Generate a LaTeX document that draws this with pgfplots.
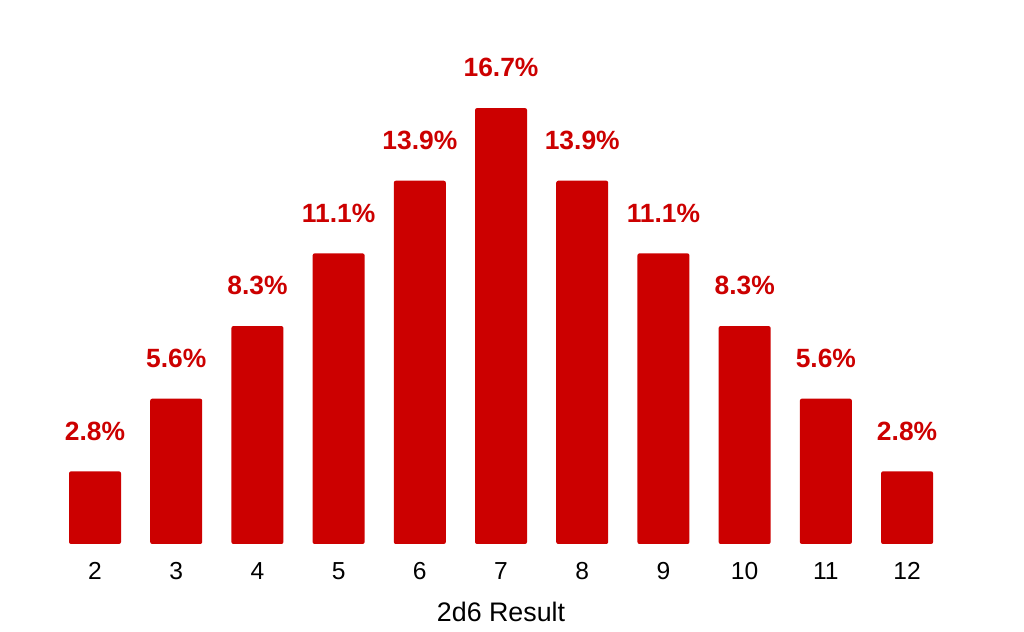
\documentclass[border=0pt]{standalone}
\usepackage{pgfplots}
\pgfplotsset{compat=1.18}
\usepackage{fontspec}
\setmainfont{Liberation Sans}
\definecolor{barred}{HTML}{CC0000}
\begin{document}
\begin{tikzpicture}
\begin{axis}[
  scale only axis,
  width=512pt, height=272pt,
  xmin=0.83, xmax=13.44,
  ymin=0, ymax=20.8,
  axis line style={draw=none},
  tick style={draw=none},
  clip=false,
  /pgf/number format/assume math mode=true,
  xtick={2,...,12},
  xticklabels={2,3,4,5,6,7,8,9,10,11,12},
  xticklabel style={font=\fontsize{12.3}{14}\selectfont, anchor=base, inner sep=0pt, yshift=-17.7pt},
  ytick=\empty,
  xlabel={2d6 Result},
  xlabel style={font=\fontsize{13.4}{15}\selectfont, at={(axis description cs:0.4893,0)}, anchor=base, inner sep=0pt, yshift=-38.6pt},
]
\addplot[ybar, bar width=26pt, fill=barred, draw=none, rounded corners=1pt,
  point meta=explicit,
  nodes near coords={\pgfmathprintnumber[fixed,fixed zerofill,precision=1]{\pgfplotspointmeta}\%},
  every node near coord/.append style={font=\fontsize{13.2}{15}\selectfont\bfseries, text=barred, anchor=south, inner sep=0pt, yshift=15.3pt},
] coordinates {
  (2,2.778) [2.778]
  (3,5.556) [5.556]
  (4,8.333) [8.333]
  (5,11.111) [11.111]
  (6,13.889) [13.889]
  (7,16.667) [16.667]
  (8,13.889) [13.889]
  (9,11.111) [11.111]
  (10,8.333) [8.333]
  (11,5.556) [5.556]
  (12,2.778) [2.778]
};
\coordinate (tl) at (rel axis cs:0,1);
\coordinate (br) at (rel axis cs:1,0);
\end{axis}
\pgfresetboundingbox
\path[use as bounding box] (tl) rectangle ([yshift=-44pt]br);
\end{tikzpicture}
\end{document}
